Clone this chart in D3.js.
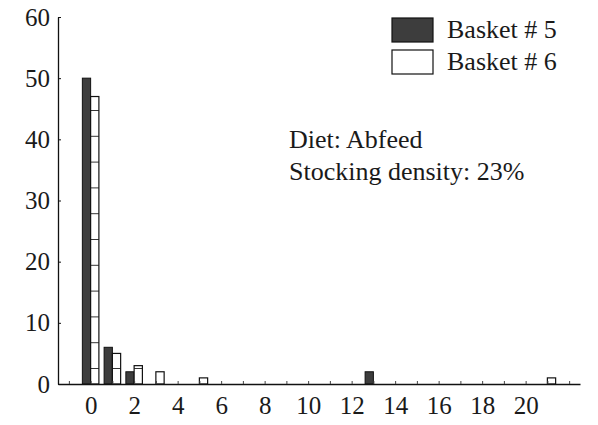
<!DOCTYPE html>
<html>
<head>
<meta charset="utf-8">
<script src="https://cdn.jsdelivr.net/npm/d3@7/dist/d3.min.js"></script>
<style>
  html, body { margin: 0; padding: 0; background: #fff; }
</style>
</head>
<body>
<svg id="chart" width="598" height="425"></svg>
<script>
// Counts per class for the two baskets
const categories = d3.range(0, 22);            // classes 0..21
const basket5 = [50, 6, 2, 0, 0, 0, 0, 0, 0, 0, 0, 0, 0, 2, 0, 0, 0, 0, 0, 0, 0, 0];
const basket6 = [47, 5, 3, 2, 0, 1, 0, 0, 0, 0, 0, 0, 0, 0, 0, 0, 0, 0, 0, 0, 0, 1];
const seriesNames = ["Basket # 5", "Basket # 6"];
const yTicks = [0, 10, 20, 30, 40, 50, 60];
const xTickLabels = [0, 2, 4, 6, 8, 10, 12, 14, 16, 18, 20];
const xMinorTicks = d3.range(-1, 23);
const notes = ["Diet: Abfeed", "Stocking density: 23%"];

const FONT = '"Liberation Serif"';
const INK = "#1a1a1a";

const svg = d3.select("#chart");
const x = d3.scaleLinear().domain([-1.5, 22.5]).range([58, 580]);
const y = d3.scaleLinear().domain([0, 60]).range([384, 17]);
const barW = x(0.38) - x(0);

// Faint horizontal rules inside the open bars
const defs = svg.append("defs");
const step = 25.8;
const pat = defs.append("pattern")
  .attr("id", "openFill")
  .attr("patternUnits", "userSpaceOnUse")
  .attr("width", 600).attr("height", step)
  .attr("y", (y(0) - 16) % step);
pat.append("rect").attr("width", 600).attr("height", step).attr("fill", "#fff");
pat.append("line").attr("x1", 0).attr("x2", 600).attr("y1", 0.5).attr("y2", 0.5)
  .attr("stroke", "#333").attr("stroke-width", 1.2);

// Bars: Basket 5 (dark) left of the class centre, Basket 6 (open) right of it
svg.append("g").selectAll("rect")
  .data(categories.filter(c => basket5[c] > 0))
  .join("rect")
  .attr("x", c => x(c) - barW)
  .attr("y", c => y(basket5[c]))
  .attr("width", barW)
  .attr("height", c => y(0) - y(basket5[c]))
  .attr("fill", "#3d3d3d")
  .attr("stroke", "#111")
  .attr("stroke-width", 1);

svg.append("g").selectAll("rect")
  .data(categories.filter(c => basket6[c] > 0))
  .join("rect")
  .attr("x", c => x(c))
  .attr("y", c => y(basket6[c]))
  .attr("width", barW)
  .attr("height", c => y(0) - y(basket6[c]))
  .attr("fill", "url(#openFill)")
  .attr("stroke", "#111")
  .attr("stroke-width", 1.2);

// Y axis
const yAxis = d3.axisLeft(y).tickValues(yTicks).tickSizeInner(-3).tickSizeOuter(0).tickPadding(8);
const gy = svg.append("g").attr("transform", `translate(${x.range()[0]},0)`).call(yAxis)
  .attr("font-family", null).attr("font-size", null);
gy.select(".domain").attr("stroke", "#111").attr("stroke-width", 1.3);
gy.selectAll(".tick line").attr("stroke", "#111");
gy.selectAll(".tick text").style("font-size", "25px").style("font-family", FONT).attr("fill", INK);

// X axis: small inward ticks at every class, labels on even classes
const xAxis = d3.axisBottom(x).tickValues(xMinorTicks).tickSizeInner(-3).tickSizeOuter(0)
  .tickPadding(12).tickFormat(d => xTickLabels.includes(d) ? d : "");
const gx = svg.append("g").attr("transform", `translate(0,${y(0)})`).call(xAxis)
  .attr("font-family", null).attr("font-size", null);
gx.select(".domain").attr("stroke", "#111").attr("stroke-width", 1.3);
gx.selectAll(".tick line").attr("stroke", "#444");
gx.selectAll(".tick text").style("font-size", "25px").style("font-family", FONT).attr("fill", INK);

// Legend
const legend = svg.append("g");
const fills = ["#3d3d3d", "#fff"];
seriesNames.forEach((name, i) => {
  const row = legend.append("g").attr("transform", `translate(392,${18 + i * 32})`);
  row.append("rect").attr("width", 41).attr("height", 24)
    .attr("fill", fills[i]).attr("stroke", "#111").attr("stroke-width", 1.2);
  row.append("text").attr("x", 55).attr("y", 20)
    .style("font-size", "26px").style("font-family", FONT).attr("fill", INK).text(name);
});

// Annotation
notes.forEach((t, i) => {
  svg.append("text").attr("x", 289).attr("y", 148 + i * 32)
    .style("font-size", "26px").style("font-family", FONT).attr("fill", INK).text(t);
});
</script>
</body>
</html>
